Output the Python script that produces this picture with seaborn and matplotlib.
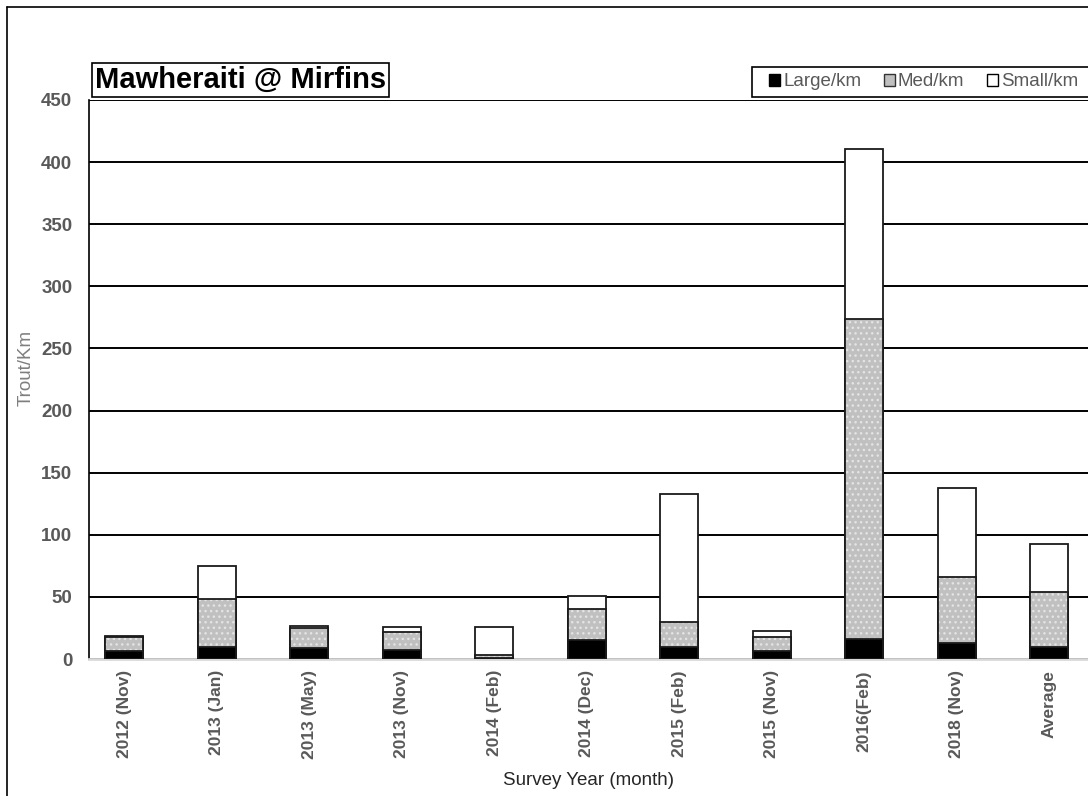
import numpy as np
import pandas as pd
import matplotlib
matplotlib.use('Agg')
import matplotlib.pyplot as plt
from matplotlib.patches import Patch, Rectangle
from matplotlib.lines import Line2D
import seaborn as sns

# ── Data ─────────────────────────────────────────────────────────────────────
surveys = ["2012 (Nov)", "2013 (Jan)", "2013 (May)", "2013 (Nov)", "2014 (Feb)",
           "2014 (Dec)", "2015 (Feb)", "2015 (Nov)", "2016(Feb)", "2018 (Nov)", "Average"]
large = [6.5, 10, 9, 7, 0.5, 15, 9.5, 6.5, 16.5, 13, 9.4]
med   = [11, 38, 16, 15, 2.5, 25, 20.5, 11, 257, 53, 44.9]
small = [1, 27, 1.5, 3.5, 22.5, 11, 103, 5, 137, 71.5, 38.3]

df = pd.DataFrame({"survey": surveys, "large": large, "med": med, "small": small})
df["large_med"] = df["large"] + df["med"]
df["total"] = df["large_med"] + df["small"]

sns.set_theme(style="white")
plt.rcParams["font.family"] = ["Liberation Sans", "DejaVu Sans"]
plt.rcParams["hatch.linewidth"] = 1.0

GREY_TXT = "#595959"
BAR_W = 0.41

fig = plt.figure(figsize=(10.88, 7.96), dpi=100)
ax = fig.add_axes([0.0818, 0.1721, 0.9182, 0.7023])

# stacked bars drawn as overlapping cumulative totals
sns.barplot(data=df, x="survey", y="total", color="white", saturation=1,
            edgecolor="#1a1a1a", linewidth=1.3, width=BAR_W, ax=ax, zorder=3)
sns.barplot(data=df, x="survey", y="large_med", color="#c0c0c0", saturation=1,
            width=BAR_W, ax=ax, zorder=3)
sns.barplot(data=df, x="survey", y="large_med", color="black", saturation=1,
            width=BAR_W, ax=ax, zorder=4, fill=False)
sns.barplot(data=df, x="survey", y="large", color="black", saturation=1,
            edgecolor="#1a1a1a", linewidth=1.3, width=BAR_W, ax=ax, zorder=5)

# dotted texture on the medium segment
for p in ax.containers[1]:
    p.set_hatch("...")
    p.set_edgecolor("#e4e4e4")
    p.set_linewidth(0)
for p in ax.containers[2]:
    p.set_edgecolor("#1a1a1a")
    p.set_linewidth(1.3)

ax.set_ylim(0, 450)
ax.set_yticks(np.arange(0, 451, 50))
ax.set_xlim(-0.38, 10.42)
ax.yaxis.grid(True, color="black", linewidth=1.4)
ax.set_axisbelow(True)

for s in ["top", "right"]:
    ax.spines[s].set_visible(False)
ax.spines["left"].set_color("black")
ax.spines["left"].set_linewidth(1.2)
ax.spines["bottom"].set_color("#d9d9d9")
ax.spines["bottom"].set_linewidth(2)
ax.tick_params(axis="both", length=0)
ax.tick_params(axis="y", pad=12)
ax.tick_params(axis="x", pad=8)

plt.setp(ax.get_yticklabels(), fontsize=13.5, fontweight="bold", color=GREY_TXT)
plt.setp(ax.get_xticklabels(), fontsize=12.5, fontweight="bold", color=GREY_TXT, rotation=90)

ax.set_xlabel("Survey Year (month)", fontsize=13.5, color="#262626", labelpad=9)
ax.set_ylabel("Trout/Km", fontsize=13.5, color="#7f7f7f")
ax.yaxis.set_label_coords(-0.054, 0.52)

# title box
fig.text(0.0875, 0.8995, "Mawheraiti @ Mirfins", fontsize=21, fontweight="bold",
         color="black", ha="left", va="center",
         bbox=dict(boxstyle="square,pad=0.1", facecolor="white", edgecolor="black", linewidth=1.2))

# legend (frame drawn separately so it runs off the right edge like the original)
fig.add_artist(Rectangle((752 / 1088, 1 - 97 / 796), 360 / 1088, 30 / 796,
                         transform=fig.transFigure, facecolor="white",
                         edgecolor="black", linewidth=1.2, clip_on=False))
handles = [Patch(facecolor="black", edgecolor="black", label="Large/km"),
           Patch(facecolor="#c0c0c0", edgecolor="#333333", label="Med/km"),
           Patch(facecolor="white", edgecolor="black", label="Small/km")]
leg = fig.legend(handles=handles, loc="center left", bbox_to_anchor=(769 / 1088, 1 - 82 / 796),
                 ncol=3, fontsize=13.5, frameon=False,
                 handlelength=0.6, handleheight=0.6, handletextpad=0.15,
                 columnspacing=1.2, borderpad=0, borderaxespad=0,
                 labelcolor=GREY_TXT)

# outer chart border (left and top visible only)
fig.add_artist(Line2D([0.0066, 0.0066], [0, 0.9915], color="black", linewidth=1.2,
                      transform=fig.transFigure))
fig.add_artist(Line2D([0.0066, 1.0], [0.9915, 0.9915], color="black", linewidth=1.2,
                      transform=fig.transFigure))

plt.savefig("out.png", dpi=100)
plt.close()
